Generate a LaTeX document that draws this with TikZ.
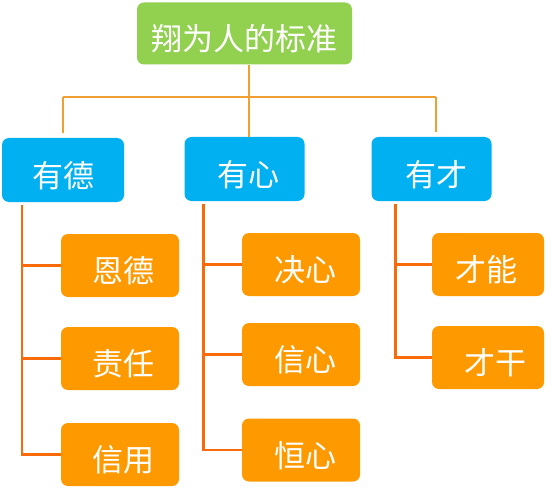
\documentclass[tikz,border=0pt]{standalone}
\usepackage{fontspec}
\newfontfamily\cjk{Noto Sans CJK SC}
\usepackage{xcolor}
\usepackage{tikz}
\usetikzlibrary{positioning}

\definecolor{raizverde}{HTML}{92D050}
\definecolor{ramaazul}{HTML}{00B0F0}
\definecolor{hojanaranja}{HTML}{FF9900}
\definecolor{lineasup}{HTML}{F0A030}
\definecolor{lineainf}{HTML}{F96A0A}

\tikzset{
  caja/.style={rounded corners=7pt, inner sep=0pt, text=white,
    font=\cjk\fontsize{31}{33}\selectfont, text height=34pt, text depth=0pt},
  raiz/.style={caja, fill=raizverde, minimum width=215pt, minimum height=62pt},
  rama/.style={caja, fill=ramaazul, minimum width=120pt, minimum height=64pt},
  hoja/.style={caja, fill=hojanaranja, minimum width=118pt, minimum height=63pt},
  consup/.style={draw=lineasup, line width=2pt},
  coninf/.style={draw=lineainf, line width=2.6pt}
}

\begin{document}
\begin{tikzpicture}[x=1pt, y=-1pt]
\useasboundingbox (0,0) rectangle (553,489);

% Nodo raíz
\node[raiz] (estandar) at (244.5,33.5) {翔为人的标准};

% Ramas principales
\node[rama, minimum width=122pt] (de) at (63,170) {有德};
\node[rama] (xin) at (244.5,169) {\kern8pt 有心};
\node[rama] (cai) at (431.5,169) {\kern10pt 有才};

% Hojas de cada rama
\node[hoja] (ende) at (120,265.5) {\kern6pt 恩德};
\node[hoja] (zeren) at (120,358.5) {\kern6pt 责任};
\node[hoja] (xinyong) at (120,454.5) {\kern6pt 信用};

\node[hoja] (juexin) at (301,264.5) {\kern8pt 决心};
\node[hoja] (xinxin) at (301,354.5) {\kern8pt 信心};
\node[hoja] (hengxin) at (301,450) {\kern8pt 恒心};

\node[hoja, minimum width=112pt] (caineng) at (488,264.5) {\kern-4pt 才能};
\node[hoja, minimum width=112pt] (caigan) at (488,357.5) {\kern14pt 才干};

% Conectores superiores
\coordinate (barra) at (249,97);
\coordinate (barraizq) at (63,97);
\coordinate (barrader) at (436,97);
\draw[consup] ([xshift=4.5pt]estandar.south) -- ([xshift=4.5pt]xin.north);
\draw[consup] (barraizq) -- (barrader);
\draw[consup] (barraizq) -- ([yshift=5pt]barraizq |- de.north);
\draw[consup] (barrader) -- ([yshift=5pt]barrader |- cai.north);

% Conectores inferiores
\coordinate (troncode) at ([xshift=20pt,yshift=-3pt]de.south west);
\coordinate (troncoxin) at ([xshift=19pt,yshift=-3pt]xin.south west);
\coordinate (troncocai) at ([xshift=24pt,yshift=-3pt]cai.south west);

\draw[coninf] (troncode) -- (troncode |- xinyong.west) -- (xinyong.west);
\draw[coninf] (troncode |- ende.west) -- (ende.west);
\draw[coninf] (troncode |- zeren.west) -- (zeren.west);

\draw[coninf] (troncoxin) -- (troncoxin |- hengxin.west) -- (hengxin.west);
\draw[coninf] (troncoxin |- juexin.west) -- (juexin.west);
\draw[coninf] (troncoxin |- xinxin.west) -- (xinxin.west);

\draw[coninf] (troncocai) -- (troncocai |- caigan.west) -- (caigan.west);
\draw[coninf] (troncocai |- caineng.west) -- (caineng.west);
\end{tikzpicture}
\end{document}
